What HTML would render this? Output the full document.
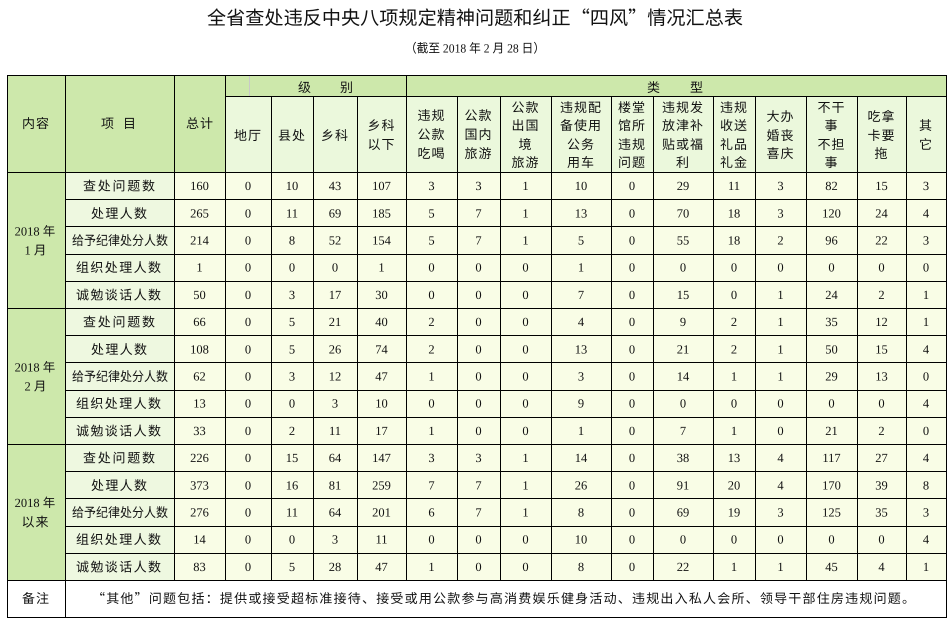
<!DOCTYPE html>
<html><head><meta charset="utf-8"><style>
html,body{margin:0;padding:0;background:#fff;}
svg{display:block;}
.cj{font-family:"Noto Sans CJK SC","Liberation Sans",sans-serif;fill:#111;}
.nm{font-family:"Liberation Serif","Noto Sans CJK SC",serif;fill:#111;font-size:12.5px;}
.hd{font-size:13px;letter-spacing:1px;}
</style></head><body>
<svg width="950" height="620" viewBox="0 0 950 620" xmlns="http://www.w3.org/2000/svg" text-rendering="geometricPrecision">
<rect x="0" y="0" width="950" height="620" fill="#fff"/>
<!-- title -->
<text class="cj" x="475" y="24.5" font-size="19" text-anchor="middle" textLength="536" lengthAdjust="spacingAndGlyphs">全省查处违反中央八项规定精神问题和纠正“四风”情况汇总表</text>
<text class="nm" x="475" y="52.5" font-size="12" text-anchor="middle" textLength="140" lengthAdjust="spacingAndGlyphs">（截至 2018 年 2 月 28 日）</text>

<!-- backgrounds -->
<rect x="7" y="75" width="218" height="97" fill="#cde8ab"/>
<rect x="225" y="75" width="721" height="21" fill="#cde8ab"/>
<rect x="225" y="96" width="721" height="76" fill="#ebf8dc"/>
<rect x="7" y="172" width="58" height="408" fill="#cde8ab"/>
<rect x="65" y="172" width="109" height="408" fill="#eef8e0"/>
<rect x="174" y="172" width="772" height="408" fill="#f9fde6"/>
<rect x="7" y="580" width="939" height="37" fill="#ffffff"/>

<!-- grid -->
<g fill="#000" shape-rendering="crispEdges">
<rect x="249" y="76" width="1" height="20" fill="#c8c8c8"/>
<rect x="7" y="75" width="940" height="1"/>
<rect x="225" y="96" width="721" height="1"/>
<rect x="7" y="172" width="940" height="1"/>
<rect x="65" y="199" width="881" height="1"/>
<rect x="65" y="226" width="881" height="1"/>
<rect x="65" y="254" width="881" height="1"/>
<rect x="65" y="281" width="881" height="1"/>
<rect x="7" y="308" width="940" height="1"/>
<rect x="65" y="335" width="881" height="1"/>
<rect x="65" y="362" width="881" height="1"/>
<rect x="65" y="390" width="881" height="1"/>
<rect x="65" y="417" width="881" height="1"/>
<rect x="7" y="444" width="940" height="1"/>
<rect x="65" y="471" width="881" height="1"/>
<rect x="65" y="498" width="881" height="1"/>
<rect x="65" y="526" width="881" height="1"/>
<rect x="65" y="553" width="881" height="1"/>
<rect x="7" y="580" width="940" height="1"/>
<rect x="7" y="617" width="940" height="1"/>
<rect x="7" y="75" width="1" height="543"/>
<rect x="65" y="75" width="1" height="543"/>
<rect x="946" y="75" width="1" height="543"/>
<rect x="174" y="75" width="1" height="506"/>
<rect x="225" y="75" width="1" height="506"/>
<rect x="406" y="75" width="1" height="506"/>
<rect x="271" y="96" width="1" height="485"/>
<rect x="313" y="96" width="1" height="485"/>
<rect x="357" y="96" width="1" height="485"/>
<rect x="457" y="96" width="1" height="485"/>
<rect x="500" y="96" width="1" height="485"/>
<rect x="551" y="96" width="1" height="485"/>
<rect x="611" y="96" width="1" height="485"/>
<rect x="653" y="96" width="1" height="485"/>
<rect x="713" y="96" width="1" height="485"/>
<rect x="755" y="96" width="1" height="485"/>
<rect x="806" y="96" width="1" height="485"/>
<rect x="857" y="96" width="1" height="485"/>
<rect x="906" y="96" width="1" height="485"/>
</g>

<!-- header text -->
<g class="cj hd" text-anchor="middle">
<text x="36" y="128">内容</text>
<text x="108" y="128">项</text>
<text x="130" y="128">目</text>
<text x="200" y="128">总计</text>
<text x="305" y="92">级</text>
<text x="347" y="92">别</text>
<text x="654" y="92">类</text>
<text x="697" y="92">型</text>

<text x="248" y="140">地厅</text>
<text x="292" y="140">县处</text>
<text x="335" y="140">乡科</text>
<text x="381.5" y="130">乡科</text>
<text x="381.5" y="149">以下</text>

<text x="431.5" y="120">违规</text>
<text x="431.5" y="139">公款</text>
<text x="431.5" y="158">吃喝</text>

<text x="478.5" y="120">公款</text>
<text x="478.5" y="139">国内</text>
<text x="478.5" y="158">旅游</text>

<text x="525.5" y="112">公款</text>
<text x="525.5" y="130">出国</text>
<text x="525.5" y="149">境</text>
<text x="525.5" y="167">旅游</text>

<text x="581" y="112">违规配</text>
<text x="581" y="130">备使用</text>
<text x="581" y="149">公务</text>
<text x="581" y="167">用车</text>

<text x="632" y="112">楼堂</text>
<text x="632" y="130">馆所</text>
<text x="632" y="149">违规</text>
<text x="632" y="167">问题</text>

<text x="683" y="112">违规发</text>
<text x="683" y="130">放津补</text>
<text x="683" y="149">贴或福</text>
<text x="683" y="167">利</text>

<text x="734" y="112">违规</text>
<text x="734" y="130">收送</text>
<text x="734" y="149">礼品</text>
<text x="734" y="167">礼金</text>

<text x="780.5" y="121">大办</text>
<text x="780.5" y="140">婚丧</text>
<text x="780.5" y="158">喜庆</text>

<text x="831.5" y="112">不干</text>
<text x="831.5" y="130">事</text>
<text x="831.5" y="149">不担</text>
<text x="831.5" y="167">事</text>

<text x="881.5" y="121">吃拿</text>
<text x="881.5" y="140">卡要</text>
<text x="881.5" y="158">拖</text>

<text x="926" y="130">其</text>
<text x="926" y="149">它</text>
</g>

<!-- 内容 column -->
<g class="nm" font-size="13" text-anchor="middle">
<text x="35" y="235.5">2018 年</text>
<text x="35.5" y="254.5">1 月</text>
<text x="35" y="371.5">2018 年</text>
<text x="35.5" y="390.5">2 月</text>
<text x="35" y="507">2018 年</text>
</g>
<text class="cj" x="35.5" y="526.5" font-size="13" text-anchor="middle" letter-spacing="1">以来</text>

<!-- item labels -->
<g class="cj" font-size="13" text-anchor="middle">
<text x="119" y="190.6" textLength="72" lengthAdjust="spacing">查处问题数</text>
<text x="119" y="217.8" textLength="56" lengthAdjust="spacing">处理人数</text>
<text x="120" y="245" textLength="96" lengthAdjust="spacingAndGlyphs">给予纪律处分人数</text>
<text x="118.5" y="272.2" textLength="85" lengthAdjust="spacing">组织处理人数</text>
<text x="118.5" y="299.4" textLength="85" lengthAdjust="spacing">诚勉谈话人数</text>
<text x="119" y="326.6" textLength="72" lengthAdjust="spacing">查处问题数</text>
<text x="119" y="353.8" textLength="56" lengthAdjust="spacing">处理人数</text>
<text x="120" y="381" textLength="96" lengthAdjust="spacingAndGlyphs">给予纪律处分人数</text>
<text x="118.5" y="408.2" textLength="85" lengthAdjust="spacing">组织处理人数</text>
<text x="118.5" y="435.4" textLength="85" lengthAdjust="spacing">诚勉谈话人数</text>
<text x="119" y="462.6" textLength="72" lengthAdjust="spacing">查处问题数</text>
<text x="119" y="489.8" textLength="56" lengthAdjust="spacing">处理人数</text>
<text x="120" y="517" textLength="96" lengthAdjust="spacingAndGlyphs">给予纪律处分人数</text>
<text x="118.5" y="544.2" textLength="85" lengthAdjust="spacing">组织处理人数</text>
<text x="118.5" y="571.4" textLength="85" lengthAdjust="spacing">诚勉谈话人数</text>
</g>

<!-- numbers -->
<g class="nm" text-anchor="middle">
<text y="190.1"><tspan x="199.5">160</tspan><tspan x="248">0</tspan><tspan x="292">10</tspan><tspan x="335">43</tspan><tspan x="381.5">107</tspan><tspan x="431.5">3</tspan><tspan x="478.5">3</tspan><tspan x="525.5">1</tspan><tspan x="581">10</tspan><tspan x="632">0</tspan><tspan x="683">29</tspan><tspan x="734">11</tspan><tspan x="780.5">3</tspan><tspan x="831.5">82</tspan><tspan x="881.5">15</tspan><tspan x="926">3</tspan></text>
<text y="217.3"><tspan x="199.5">265</tspan><tspan x="248">0</tspan><tspan x="292">11</tspan><tspan x="335">69</tspan><tspan x="381.5">185</tspan><tspan x="431.5">5</tspan><tspan x="478.5">7</tspan><tspan x="525.5">1</tspan><tspan x="581">13</tspan><tspan x="632">0</tspan><tspan x="683">70</tspan><tspan x="734">18</tspan><tspan x="780.5">3</tspan><tspan x="831.5">120</tspan><tspan x="881.5">24</tspan><tspan x="926">4</tspan></text>
<text y="244.5"><tspan x="199.5">214</tspan><tspan x="248">0</tspan><tspan x="292">8</tspan><tspan x="335">52</tspan><tspan x="381.5">154</tspan><tspan x="431.5">5</tspan><tspan x="478.5">7</tspan><tspan x="525.5">1</tspan><tspan x="581">5</tspan><tspan x="632">0</tspan><tspan x="683">55</tspan><tspan x="734">18</tspan><tspan x="780.5">2</tspan><tspan x="831.5">96</tspan><tspan x="881.5">22</tspan><tspan x="926">3</tspan></text>
<text y="271.7"><tspan x="199.5">1</tspan><tspan x="248">0</tspan><tspan x="292">0</tspan><tspan x="335">0</tspan><tspan x="381.5">1</tspan><tspan x="431.5">0</tspan><tspan x="478.5">0</tspan><tspan x="525.5">0</tspan><tspan x="581">1</tspan><tspan x="632">0</tspan><tspan x="683">0</tspan><tspan x="734">0</tspan><tspan x="780.5">0</tspan><tspan x="831.5">0</tspan><tspan x="881.5">0</tspan><tspan x="926">0</tspan></text>
<text y="298.9"><tspan x="199.5">50</tspan><tspan x="248">0</tspan><tspan x="292">3</tspan><tspan x="335">17</tspan><tspan x="381.5">30</tspan><tspan x="431.5">0</tspan><tspan x="478.5">0</tspan><tspan x="525.5">0</tspan><tspan x="581">7</tspan><tspan x="632">0</tspan><tspan x="683">15</tspan><tspan x="734">0</tspan><tspan x="780.5">1</tspan><tspan x="831.5">24</tspan><tspan x="881.5">2</tspan><tspan x="926">1</tspan></text>

<text y="326.1"><tspan x="199.5">66</tspan><tspan x="248">0</tspan><tspan x="292">5</tspan><tspan x="335">21</tspan><tspan x="381.5">40</tspan><tspan x="431.5">2</tspan><tspan x="478.5">0</tspan><tspan x="525.5">0</tspan><tspan x="581">4</tspan><tspan x="632">0</tspan><tspan x="683">9</tspan><tspan x="734">2</tspan><tspan x="780.5">1</tspan><tspan x="831.5">35</tspan><tspan x="881.5">12</tspan><tspan x="926">1</tspan></text>
<text y="353.3"><tspan x="199.5">108</tspan><tspan x="248">0</tspan><tspan x="292">5</tspan><tspan x="335">26</tspan><tspan x="381.5">74</tspan><tspan x="431.5">2</tspan><tspan x="478.5">0</tspan><tspan x="525.5">0</tspan><tspan x="581">13</tspan><tspan x="632">0</tspan><tspan x="683">21</tspan><tspan x="734">2</tspan><tspan x="780.5">1</tspan><tspan x="831.5">50</tspan><tspan x="881.5">15</tspan><tspan x="926">4</tspan></text>
<text y="380.5"><tspan x="199.5">62</tspan><tspan x="248">0</tspan><tspan x="292">3</tspan><tspan x="335">12</tspan><tspan x="381.5">47</tspan><tspan x="431.5">1</tspan><tspan x="478.5">0</tspan><tspan x="525.5">0</tspan><tspan x="581">3</tspan><tspan x="632">0</tspan><tspan x="683">14</tspan><tspan x="734">1</tspan><tspan x="780.5">1</tspan><tspan x="831.5">29</tspan><tspan x="881.5">13</tspan><tspan x="926">0</tspan></text>
<text y="407.7"><tspan x="199.5">13</tspan><tspan x="248">0</tspan><tspan x="292">0</tspan><tspan x="335">3</tspan><tspan x="381.5">10</tspan><tspan x="431.5">0</tspan><tspan x="478.5">0</tspan><tspan x="525.5">0</tspan><tspan x="581">9</tspan><tspan x="632">0</tspan><tspan x="683">0</tspan><tspan x="734">0</tspan><tspan x="780.5">0</tspan><tspan x="831.5">0</tspan><tspan x="881.5">0</tspan><tspan x="926">4</tspan></text>
<text y="434.9"><tspan x="199.5">33</tspan><tspan x="248">0</tspan><tspan x="292">2</tspan><tspan x="335">11</tspan><tspan x="381.5">17</tspan><tspan x="431.5">1</tspan><tspan x="478.5">0</tspan><tspan x="525.5">0</tspan><tspan x="581">1</tspan><tspan x="632">0</tspan><tspan x="683">7</tspan><tspan x="734">1</tspan><tspan x="780.5">0</tspan><tspan x="831.5">21</tspan><tspan x="881.5">2</tspan><tspan x="926">0</tspan></text>

<text y="462.1"><tspan x="199.5">226</tspan><tspan x="248">0</tspan><tspan x="292">15</tspan><tspan x="335">64</tspan><tspan x="381.5">147</tspan><tspan x="431.5">3</tspan><tspan x="478.5">3</tspan><tspan x="525.5">1</tspan><tspan x="581">14</tspan><tspan x="632">0</tspan><tspan x="683">38</tspan><tspan x="734">13</tspan><tspan x="780.5">4</tspan><tspan x="831.5">117</tspan><tspan x="881.5">27</tspan><tspan x="926">4</tspan></text>
<text y="489.3"><tspan x="199.5">373</tspan><tspan x="248">0</tspan><tspan x="292">16</tspan><tspan x="335">81</tspan><tspan x="381.5">259</tspan><tspan x="431.5">7</tspan><tspan x="478.5">7</tspan><tspan x="525.5">1</tspan><tspan x="581">26</tspan><tspan x="632">0</tspan><tspan x="683">91</tspan><tspan x="734">20</tspan><tspan x="780.5">4</tspan><tspan x="831.5">170</tspan><tspan x="881.5">39</tspan><tspan x="926">8</tspan></text>
<text y="516.5"><tspan x="199.5">276</tspan><tspan x="248">0</tspan><tspan x="292">11</tspan><tspan x="335">64</tspan><tspan x="381.5">201</tspan><tspan x="431.5">6</tspan><tspan x="478.5">7</tspan><tspan x="525.5">1</tspan><tspan x="581">8</tspan><tspan x="632">0</tspan><tspan x="683">69</tspan><tspan x="734">19</tspan><tspan x="780.5">3</tspan><tspan x="831.5">125</tspan><tspan x="881.5">35</tspan><tspan x="926">3</tspan></text>
<text y="543.7"><tspan x="199.5">14</tspan><tspan x="248">0</tspan><tspan x="292">0</tspan><tspan x="335">3</tspan><tspan x="381.5">11</tspan><tspan x="431.5">0</tspan><tspan x="478.5">0</tspan><tspan x="525.5">0</tspan><tspan x="581">10</tspan><tspan x="632">0</tspan><tspan x="683">0</tspan><tspan x="734">0</tspan><tspan x="780.5">0</tspan><tspan x="831.5">0</tspan><tspan x="881.5">0</tspan><tspan x="926">4</tspan></text>
<text y="570.9"><tspan x="199.5">83</tspan><tspan x="248">0</tspan><tspan x="292">5</tspan><tspan x="335">28</tspan><tspan x="381.5">47</tspan><tspan x="431.5">1</tspan><tspan x="478.5">0</tspan><tspan x="525.5">0</tspan><tspan x="581">8</tspan><tspan x="632">0</tspan><tspan x="683">22</tspan><tspan x="734">1</tspan><tspan x="780.5">1</tspan><tspan x="831.5">45</tspan><tspan x="881.5">4</tspan><tspan x="926">1</tspan></text>
</g>

<!-- remarks row -->
<text class="cj hd" x="36" y="603" text-anchor="middle">备注</text>
<text class="cj" x="503.5" y="603" font-size="13" text-anchor="middle" textLength="823" lengthAdjust="spacing">“其他”问题包括：提供或接受超标准接待、接受或用公款参与高消费娱乐健身活动、违规出入私人会所、领导干部住房违规问题。</text>
</svg>
</body></html>
